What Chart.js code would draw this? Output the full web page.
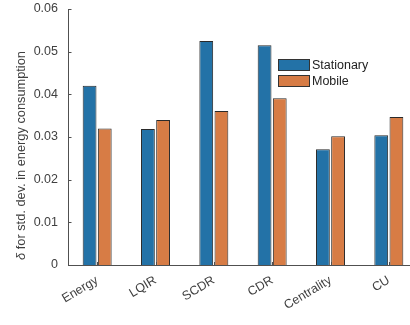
<!DOCTYPE html>
<html>
<head>
<meta charset="utf-8">
<script src="https://cdn.jsdelivr.net/npm/chart.js@4"></script>
<style>
  html, body { margin: 0; padding: 0; overflow: hidden; background: #fff; }
  #wrap { width: 418px; height: 325px; }
</style>
</head>
<body>
<div id="wrap"><canvas id="barChart" width="418" height="325"></canvas></div>
<script>
const categories = ["Energy", "LQIR", "SCDR", "CDR", "Centrality", "CU"]
const stationary = [0.0420, 0.0319, 0.0525, 0.0515, 0.0271, 0.0304]
const mobile = [0.0320, 0.0340, 0.0361, 0.0391, 0.0302, 0.0347]
const yTicks = [0, 0.01, 0.02, 0.03, 0.04, 0.05, 0.06]
const yTickLabels = ["0", "0.01", "0.02", "0.03", "0.04", "0.05", "0.06"]
const seriesNames = ["Stationary", "Mobile"]
const yTitleSymbol = "δ"
const yTitleRest = " for std. dev. in energy consumption"

const FONT = "'Liberation Sans', Arial, sans-serif"
const TEXT = '#404040'
const AXIS = '#505050'

// MATLAB style: inward ticks, y title with italic delta, custom legend box
const matlabBits = {
  id: 'matlabBits',
  afterDraw(chart) {
    const ctx = chart.ctx
    const x = chart.scales.x, y = chart.scales.y
    const a = chart.chartArea
    ctx.save()
    ctx.strokeStyle = AXIS
    ctx.lineWidth = 1
    ctx.beginPath()
    ctx.moveTo(a.left + 0.5, a.top)
    ctx.lineTo(a.left + 0.5, a.bottom + 0.5)
    ctx.lineTo(a.right, a.bottom + 0.5)
    ctx.stroke()
    ctx.beginPath()
    yTicks.forEach(function(v){
      let py = Math.round(y.getPixelForValue(v)) + 0.5
      ctx.moveTo(a.left, py)
      ctx.lineTo(a.left + 3.5, py)
    })
    categories.forEach(function(c, i){
      let px = Math.round(x.getPixelForValue(i)) + 0.5
      ctx.moveTo(px, a.bottom)
      ctx.lineTo(px, a.bottom - 3)
    })
    ctx.stroke()

    // y title
    ctx.save()
    ctx.translate(25, 155.5)
    ctx.rotate(-Math.PI / 2)
    ctx.fillStyle = TEXT
    ctx.textBaseline = 'alphabetic'
    ctx.textAlign = 'left'
    let f1 = 'italic 12.8px ' + FONT, f2 = '12.8px ' + FONT
    ctx.font = f1
    let w1 = ctx.measureText(yTitleSymbol).width
    ctx.font = f2
    let w2 = ctx.measureText(yTitleRest).width
    let start = -(w1 + w2) / 2
    ctx.font = f1
    ctx.fillText(yTitleSymbol, start, 0)
    ctx.font = f2
    ctx.fillText(yTitleRest, start + w1, 0)
    ctx.restore()

    // legend
    const lx = 278, ly = 59
    chart.data.datasets.forEach(function(ds, i){
      let top = ly + i * 16
      ctx.fillStyle = ds.backgroundColor
      ctx.fillRect(lx, top, 32, 12)
      ctx.strokeStyle = '#333'
      ctx.strokeRect(lx + 0.5, top + 0.5, 31, 11)
      ctx.fillStyle = '#222'
      ctx.font = '12.5px ' + FONT
      ctx.textBaseline = 'middle'
      ctx.textAlign = 'left'
      ctx.fillText(ds.label, lx + 34, top + 6.5)
    })
    ctx.restore()
  }
}

const ctx = document.getElementById('barChart')
new Chart(ctx, {
  type: 'bar',
  data: {
    labels: categories,
    datasets: [{
      label: seriesNames[0],
      data: stationary,
      backgroundColor: '#2372a7',
      borderColor: '#2a2a2a',
      borderWidth: 1,
      categoryPercentage: 0.52,
      barPercentage: 0.91
    },
    {
      label: seriesNames[1],
      data: mobile,
      backgroundColor: '#d77c45',
      borderColor: '#2a2a2a',
      borderWidth: 1,
      categoryPercentage: 0.52,
      barPercentage: 0.91
    }]
  },
  options: {
    responsive: false,
    animation: false,
    layout: { padding: { top: 9, right: 0, left: 0, bottom: 0 } },
    plugins: {
      legend: { display: false },
      tooltip: { enabled: false }
    },
    scales: {
      x: {
        grid: { display: false, drawTicks: false },
        border: { display: false },
        ticks: {
          color: TEXT,
          font: { family: FONT, size: 12.5 },
          minRotation: 31,
          maxRotation: 31,
          padding: 8
        },
        afterFit: function(s){ s.height = 60; s.paddingLeft = 0; s.paddingRight = 0 }
      },
      y: {
        min: 0,
        max: 0.06,
        grid: { display: false, drawTicks: false },
        border: { display: false },
        afterBuildTicks: function(s){ s.ticks = yTicks.map(function(v){ return { value: v } }) },
        ticks: {
          color: TEXT,
          font: { family: FONT, size: 12.5 },
          padding: 10,
          callback: function(v){ return yTickLabels[yTicks.indexOf(v)] }
        },
        afterFit: function(s){ s.width = 68; s.paddingTop = 0; s.paddingBottom = 0 }
      }
    }
  },
  plugins: [matlabBits]
})
</script>
</body>
</html>
